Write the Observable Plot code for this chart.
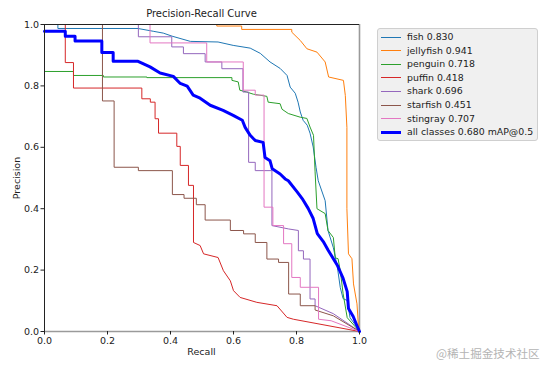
<!DOCTYPE html>
<html>
<head>
<meta charset="utf-8">
<script src="https://cdn.jsdelivr.net/npm/d3@7"></script>
<script src="https://cdn.jsdelivr.net/npm/@observablehq/plot@0.6"></script>
<style>
  html, body { margin: 0; padding: 0; background: #fff; }
  #wrap { position: relative; width: 553px; height: 369px; font-family: "DejaVu Sans", sans-serif; color: #222; overflow: hidden; }
  #wrap svg { position: absolute; left: 0; top: 0; }
  .lbl { position: absolute; font-size: 9.5px; white-space: nowrap; }
  #legend { position: absolute; left: 377px; top: 28px; width: 159px; height: 111px; background: #f0f0f0; border: 1px solid #cfcfcf; border-radius: 3px; }
  .row { position: absolute; left: 0; height: 12px; font-size: 9.4px; line-height: 12px; white-space: nowrap; }
  .sw { position: absolute; left: 3px; top: 6px; width: 20px; }
  .tx { position: absolute; left: 29px; top: 0; }
  #wm { position: absolute; left: 436px; top: 345px; font-family: "Noto Sans CJK SC", sans-serif; font-size: 11.6px; color: #b4b4b4; white-space: nowrap; }
</style>
</head>
<body>
<div id="wrap"></div>
<script>
// ---- data ----
const classNames = ["fish", "jellyfish", "penguin", "puffin", "shark", "starfish", "stingray"];
const classAP = ["0.830", "0.941", "0.718", "0.418", "0.696", "0.451", "0.707"];
const allLabel = "all classes 0.680 mAP@0.5";
const xTicks = [0, 0.2, 0.4, 0.6, 0.8, 1.0];
const yTicks = [0, 0.2, 0.4, 0.6, 0.8, 1.0];

const fish = [[0,1],[0.0425,1],[0.0425,0.987],[0.297,0.987],[0.345,0.978],[0.377,0.972],[0.405,0.962],[0.463,0.945],[0.551,0.943],[0.599,0.932],[0.653,0.923],[0.685,0.906],[0.716,0.878],[0.748,0.857],[0.77,0.834],[0.78,0.796],[0.796,0.776],[0.805,0.747],[0.812,0.715],[0.821,0.688],[0.834,0.672],[0.843,0.646],[0.853,0.601],[0.862,0.535],[0.869,0.491],[0.891,0.426],[0.9,0.329],[0.917,0.273],[0.93,0.208],[0.939,0.143],[0.948,0.107],[0.961,0.101],[0.97,0.045],[0.993,0.012],[1,0]];
const jellyfish = [[0,1],[0.547,1],[0.547,0.995],[0.626,0.995],[0.626,0.984],[0.785,0.984],[0.785,0.975],[0.812,0.948],[0.833,0.921],[0.865,0.91],[0.891,0.878],[0.902,0.829],[0.949,0.818],[0.955,0.769],[0.96,0.665],[0.96,0.4],[0.965,0.253],[0.976,0.237],[0.981,0.155],[0.992,0.09],[0.997,0.013],[1,0]];
const penguin = [[0,0.847],[0.092,0.847],[0.092,0.834],[0.187,0.834],[0.187,0.829],[0.325,0.829],[0.325,0.827],[0.595,0.827],[0.595,0.818],[0.615,0.813],[0.62,0.786],[0.642,0.78],[0.663,0.773],[0.706,0.766],[0.71,0.747],[0.748,0.742],[0.754,0.724],[0.774,0.71],[0.812,0.698],[0.833,0.694],[0.843,0.666],[0.854,0.639],[0.859,0.52],[0.865,0.4],[0.891,0.384],[0.9,0.329],[0.917,0.306],[0.923,0.24],[0.932,0.237],[0.939,0.198],[0.948,0.123],[0.961,0.045],[1,0]];
const puffin = [[0,1],[0.066,1],[0.066,0.876],[0.092,0.876],[0.092,0.793],[0.309,0.793],[0.309,0.758],[0.336,0.758],[0.336,0.747],[0.351,0.747],[0.351,0.693],[0.362,0.693],[0.362,0.646],[0.42,0.646],[0.42,0.603],[0.431,0.603],[0.431,0.541],[0.457,0.541],[0.457,0.476],[0.473,0.476],[0.473,0.29],[0.494,0.28],[0.505,0.253],[0.551,0.241],[0.568,0.198],[0.59,0.165],[0.6,0.133],[0.621,0.111],[0.674,0.095],[0.738,0.084],[0.77,0.046],[0.79,0.04],[1,0]];
const shark = [[0,1],[0.298,1],[0.298,0.96],[0.404,0.96],[0.404,0.927],[0.441,0.927],[0.441,0.905],[0.51,0.905],[0.51,0.878],[0.563,0.878],[0.563,0.856],[0.63,0.856],[0.63,0.78],[0.648,0.78],[0.648,0.551],[0.669,0.551],[0.669,0.524],[0.722,0.524],[0.722,0.345],[0.775,0.334],[0.806,0.329],[0.806,0.263],[0.822,0.263],[0.822,0.236],[0.843,0.236],[0.843,0.106],[0.859,0.106],[0.859,0.084],[0.917,0.058],[1,0]];
const starfish = [[0,1],[0.184,1],[0.184,0.751],[0.221,0.751],[0.221,0.535],[0.298,0.535],[0.298,0.524],[0.406,0.524],[0.406,0.446],[0.443,0.446],[0.443,0.434],[0.482,0.434],[0.482,0.413],[0.51,0.413],[0.51,0.363],[0.59,0.363],[0.59,0.329],[0.632,0.329],[0.632,0.318],[0.669,0.318],[0.669,0.29],[0.706,0.29],[0.706,0.236],[0.743,0.236],[0.743,0.225],[0.775,0.225],[0.775,0.122],[0.812,0.122],[0.812,0.084],[0.859,0.084],[0.859,0.07],[0.917,0.051],[1,0]];
const stingray = [[0,1],[0.335,1],[0.335,0.94],[0.515,0.94],[0.515,0.878],[0.631,0.878],[0.631,0.786],[0.669,0.786],[0.669,0.77],[0.697,0.77],[0.697,0.405],[0.725,0.405],[0.725,0.345],[0.759,0.345],[0.759,0.286],[0.785,0.286],[0.785,0.176],[0.812,0.176],[0.812,0.144],[0.87,0.144],[0.87,0.04],[0.91,0.035],[1,0]];
const allClasses = [[0,0.978],[0.066,0.978],[0.066,0.962],[0.097,0.962],[0.097,0.946],[0.182,0.946],[0.182,0.909],[0.218,0.909],[0.218,0.88],[0.297,0.88],[0.335,0.862],[0.367,0.842],[0.409,0.831],[0.431,0.808],[0.453,0.799],[0.472,0.77],[0.494,0.76],[0.526,0.737],[0.567,0.72],[0.599,0.704],[0.628,0.688],[0.637,0.665],[0.653,0.639],[0.669,0.622],[0.694,0.616],[0.7,0.567],[0.716,0.556],[0.723,0.53],[0.748,0.513],[0.764,0.497],[0.774,0.491],[0.802,0.455],[0.818,0.433],[0.837,0.401],[0.853,0.368],[0.866,0.319],[0.885,0.293],[0.901,0.264],[0.93,0.215],[0.948,0.173],[0.961,0.13],[0.965,0.075],[0.98,0.049],[0.996,0.009],[1,0]];

const series = [fish, jellyfish, penguin, puffin, shark, starfish, stingray];
const colors = ["#1f77b4", "#ff7f0e", "#2ca02c", "#d62728", "#9467bd", "#8c564b", "#e377c2"];

// ---- chart ----
const W = 553, H = 369;
const mL = 44, mR = 194, mT = 24, mB = 38;

const marks = [
  Plot.ruleY([0], {stroke: "#9a9a9a", strokeWidth: 1.6}),
  Plot.ruleX([1], {stroke: "#9a9a9a", strokeWidth: 1.6}),
  ...series.map((s, i) => Plot.line(s, {x: d => d[0], y: d => d[1], stroke: colors[i], strokeWidth: 1, curve: "linear"})),
  Plot.line(allClasses, {x: d => d[0], y: d => d[1], stroke: "#0000ff", strokeWidth: 3, curve: "linear"}),
  Plot.ruleY([1], {stroke: "#222", strokeWidth: 1}),
  Plot.ruleX([0], {stroke: "#222", strokeWidth: 1}),
  Plot.axisX({ticks: xTicks, tickFormat: d3.format(".1f"), tickSize: 3.5, tickPadding: 2, label: null, stroke: "#222"}),
  Plot.axisY({ticks: yTicks, tickFormat: d3.format(".1f"), tickSize: 3.5, tickPadding: 2, label: null, stroke: "#222"})
];

const chart = Plot.plot({
  width: W, height: H,
  marginLeft: mL, marginRight: mR, marginTop: mT, marginBottom: mB,
  x: {domain: [0, 1]},
  y: {domain: [0, 1]},
  style: {fontFamily: "DejaVu Sans, sans-serif", fontSize: "9.5px", color: "#222", background: "transparent", overflow: "visible"},
  marks
});

const wrap = document.getElementById("wrap");
wrap.appendChild(chart);

const cx = mL + (W - mL - mR) / 2;
function addLabel(text, css) {
  const d = document.createElement("div");
  d.className = "lbl";
  d.textContent = text;
  Object.assign(d.style, css);
  wrap.appendChild(d);
  return d;
}
addLabel("Precision-Recall Curve", {left: cx + "px", top: "8px", transform: "translateX(-50%)", fontSize: "10px"});
addLabel("Recall", {left: cx + "px", top: "346px", transform: "translateX(-50%)"});
addLabel("Precision", {left: "16px", top: "178px", transform: "translate(-50%,-50%) rotate(-90deg)"});

// legend
const lg = document.createElement("div");
lg.id = "legend";
wrap.appendChild(lg);
const entries = classNames.map((n, i) => ({text: n + " " + classAP[i], color: colors[i], w: 1}));
entries.push({text: allLabel, color: "#0000ff", w: 3});
entries.forEach((e, i) => {
  const r = document.createElement("div");
  r.className = "row";
  r.style.top = (2 + i * 13.6) + "px";
  r.style.width = "158px";
  const sw = document.createElement("div");
  sw.className = "sw";
  sw.style.borderTop = e.w + "px solid " + e.color;
  sw.style.top = (6 - e.w / 2) + "px";
  const tx = document.createElement("div");
  tx.className = "tx";
  tx.textContent = e.text;
  r.appendChild(sw); r.appendChild(tx);
  lg.appendChild(r);
});

const wm = document.createElement("div");
wm.id = "wm";
wm.textContent = "@稀土掘金技术社区";
wrap.appendChild(wm);
</script>
</body>
</html>
